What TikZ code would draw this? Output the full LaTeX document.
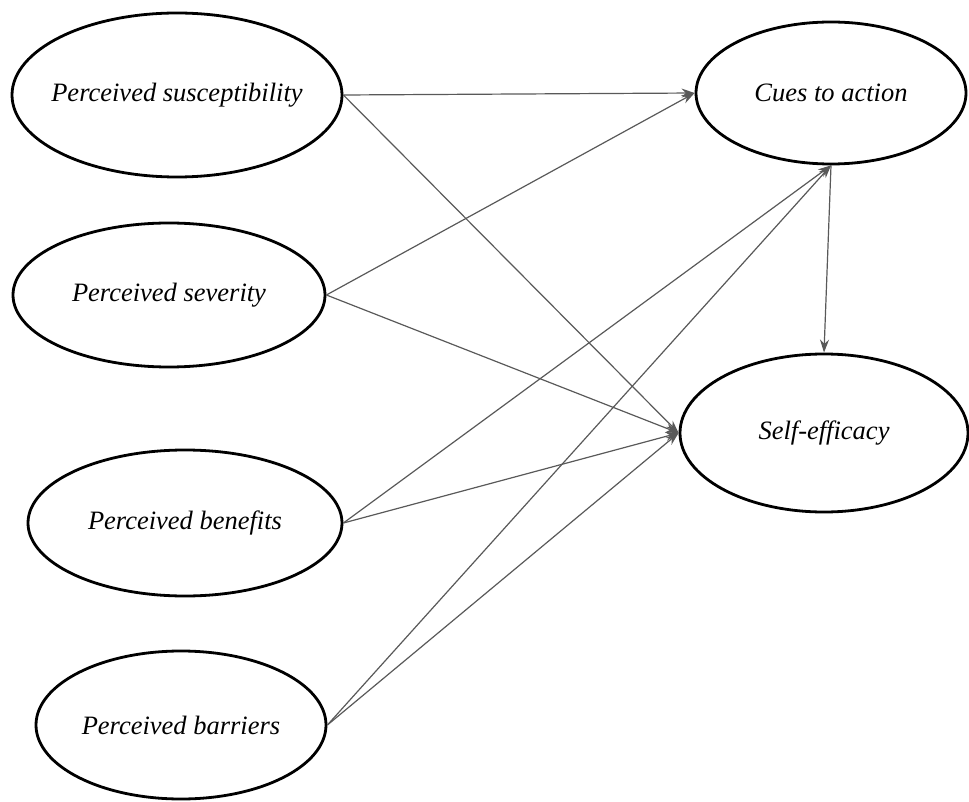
\documentclass[tikz,border=0pt]{standalone}
\usepackage{fontspec}
\setmainfont{Liberation Serif}
\usetikzlibrary{shapes.geometric,arrows.meta}
\begin{document}
\begin{tikzpicture}[x=1pt,y=-1pt,
  construct/.style={ellipse,draw=black,line width=2.8pt,inner sep=0pt,
    label={[font=\fontsize{26.5}{30}\selectfont\itshape]center:#1}},
  path/.style={draw=black!65,line width=1.2pt,
    -{Stealth[length=13pt,width=9pt]}}]
\useasboundingbox (0,0) rectangle (969,802);
% predictors
\node[construct=Perceived susceptibility,minimum width=330pt,minimum height=164pt] (sus) at (177,95) {};
\node[construct=Perceived severity,minimum width=312pt,minimum height=144pt] (sev) at (169,295) {};
\node[construct=Perceived benefits,minimum width=314pt,minimum height=146pt] (ben) at (185,523) {};
\node[construct=Perceived barriers,minimum width=290pt,minimum height=148pt] (bar) at (181,725) {};
% outcomes
\node[construct=Cues to action,minimum width=270pt,minimum height=142pt] (cues) at (831,93) {};
\node[construct=Self-efficacy,minimum width=288pt,minimum height=158pt] (self) at (824,433) {};
% paths
\draw[path] (sus.east) -- (cues.west);
\draw[path] (sus.east) -- (self.west);
\draw[path] (sev.east) -- (cues.west);
\draw[path] (sev.east) -- (self.west);
\draw[path] (ben.east) -- (cues.south);
\draw[path] (ben.east) -- (self.west);
\draw[path] (bar.east) -- (cues.south);
\draw[path] (bar.east) -- (self.west);
\draw[path] (cues.south) -- (self.north);
\end{tikzpicture}
\end{document}
